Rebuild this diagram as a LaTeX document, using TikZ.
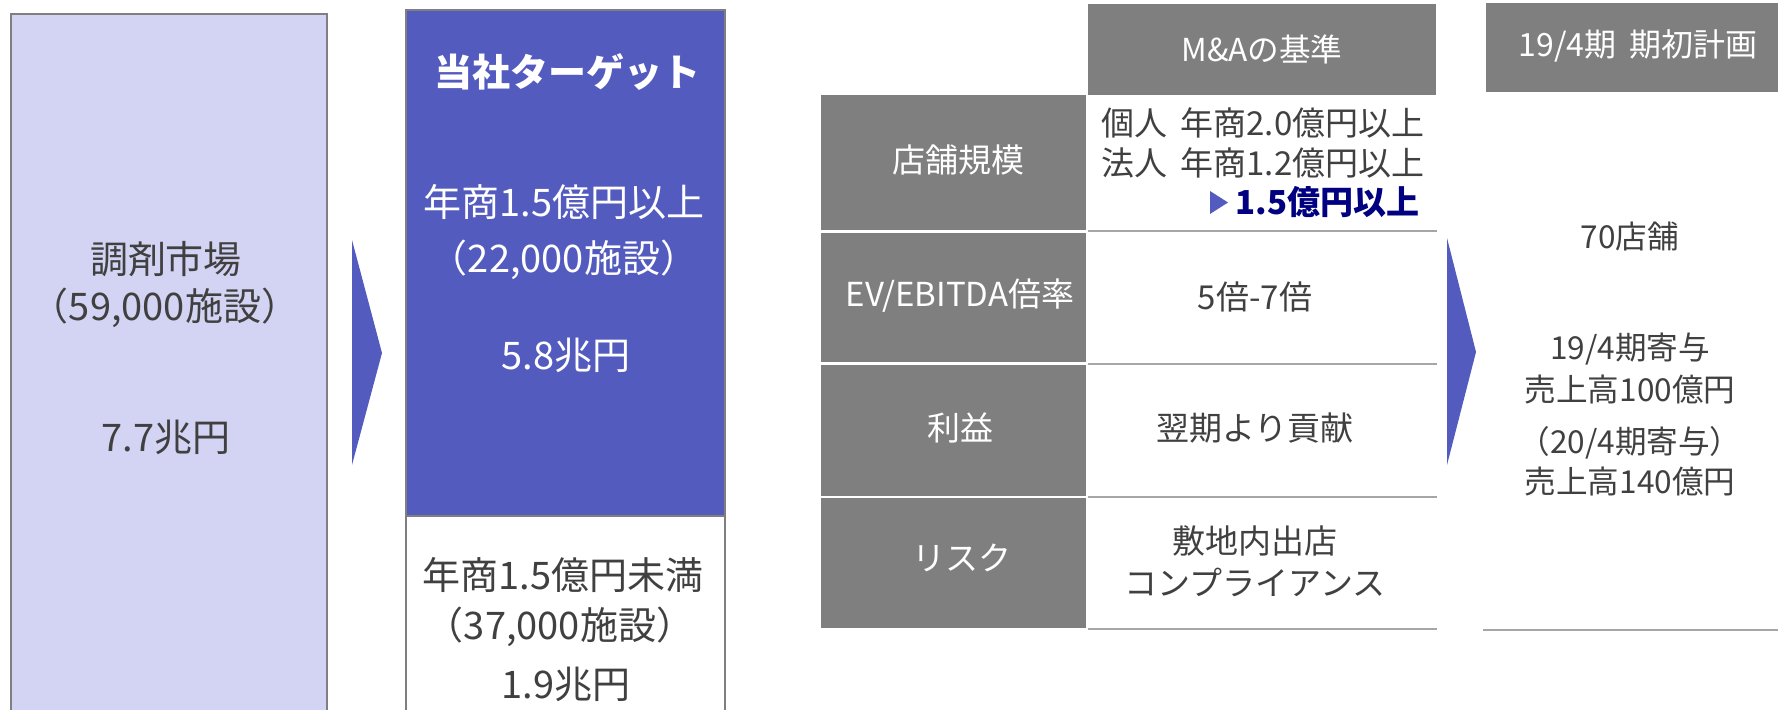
\documentclass[tikz,border=0pt]{standalone}
\usepackage{fontspec}
\setmainfont{Noto Sans CJK JP}
\definecolor{lav}{RGB}{211,211,243}
\definecolor{tblue}{RGB}{84,91,191}
\definecolor{bgray}{RGB}{127,127,127}
\definecolor{lgray}{RGB}{166,166,166}
\definecolor{txt}{RGB}{64,64,64}
\definecolor{navy}{RGB}{0,0,128}
\begin{document}
\begin{tikzpicture}[x=0.5pt,y=-0.5pt,
  box/.style={anchor=north west, inner sep=0, outer sep=0},
  big/.style={text=txt, font=\fontsize{19}{22}\selectfont, inner sep=0},
  bigw/.style={big, text=white},
  lab/.style={text=white, font=\fontsize{16.5}{20}\selectfont, inner sep=0},
  val/.style={text=txt, font=\fontsize{16.5}{20}\selectfont, inner sep=0},
  rcol/.style={text=txt, font=\fontsize{15.8}{18}\selectfont, inner sep=0},
  cell/.style={box, fill=bgray},
  rule/.style={draw=lgray, line width=1.25pt},
  chevron/.style={fill=tblue}
]
\useasboundingbox (0,0) rectangle (1778,710);
\clip (0,0) rectangle (1778,710);

% left market box
\node[box, draw=bgray, line width=1pt, fill=lav, minimum width=158pt, minimum height=360pt] (market) at (11,14) {};
\node[big] (m1) at (166,259) {調剤市場};
\node[big] (m2) at (165,308) {（59,000施設）};
\node[big] (m3) at (166,437) {7.7兆円};

% chevron 1
\fill[chevron] (352,240) -- (382,353) -- (352,465) -- cycle;

% target box
\node[box, draw=bgray, line width=1pt, fill=tblue, minimum width=159.5pt, minimum height=253pt] (target) at (406,10) {};
\node[box, draw=bgray, line width=1pt, fill=white, minimum width=159.5pt, minimum height=110pt] (rest) at (406,516) {};
\node[bigw, font=\fontsize{19}{22}\selectfont\bfseries] (t0) at (567,72) {当社ターゲット};
\node[bigw] (t1) at (564,202) {年商1.5億円以上};
\node[bigw] (t2) at (564,260) {（22,000施設）};
\node[bigw] (t3) at (566,355) {5.8兆円};
\node[big] (r1) at (563,575) {年商1.5億円未満};
\node[big] (r2) at (560,627) {（37,000施設）};
\node[big] (r3) at (566,684) {1.9兆円};

% M&A table
\node[cell, minimum width=174pt, minimum height=45.5pt] (mah) at (1088,4) {};
\node[lab, font=\fontsize{15.8}{18}\selectfont] (mahT) at (1262,49) {M\&Aの基準};

\node[cell, minimum width=132.5pt, minimum height=67.5pt] (l1) at (821,95) {};
\node[cell, minimum width=132.5pt, minimum height=64.5pt] (l2) at (821,233) {};
\node[cell, minimum width=132.5pt, minimum height=65.5pt] (l3) at (821,365) {};
\node[cell, minimum width=132.5pt, minimum height=65pt] (l4) at (821,498) {};
\node[lab] (l1T) at (958,160) {店舗規模};
\node[lab] (l2T) at (960,296) {EV/EBITDA倍率};
\node[lab] (l3T) at (960,428) {利益};
\node[lab] (l4T) at (962,558) {リスク};

\node[box, minimum width=174.5pt, minimum height=68pt] (v1) at (1088,95) {};
\node[box, minimum width=174.5pt, minimum height=66.5pt] (v2) at (1088,231) {};
\node[box, minimum width=174.5pt, minimum height=66.5pt] (v3) at (1088,364) {};
\node[box, minimum width=174.5pt, minimum height=66pt] (v4) at (1088,497) {};
\draw[rule] (v1.south west) -- (v1.south east);
\draw[rule] (v2.south west) -- (v2.south east);
\draw[rule] (v3.south west) -- (v3.south east);
\draw[rule] (v4.south west) -- (v4.south east);

\node[val, anchor=west] (v1a) at (1101,123) {個人\hspace{0.4em}年商2.0億円以上};
\node[val, anchor=west] (v1b) at (1101,163) {法人\hspace{0.4em}年商1.2億円以上};
\node[val, anchor=east, text=navy, font=\fontsize{16.5}{20}\selectfont\bfseries] (v1c) at (1420,202) {1.5億円以上};
\fill[tblue] (1210,191) -- (1228,202.5) -- (1210,214) -- cycle;
\node[val] (v2T) at (1255,297) {5倍-7倍};
\node[val] (v3T) at (1255,428) {翌期より貢献};
\node[val] (v4a) at (1255,541) {敷地内出店};
\node[val] (v4b) at (1255,582) {コンプライアンス};

% chevron 2
\fill[chevron] (1447,238) -- (1476,352) -- (1447,465) -- cycle;

% right column
\node[cell, minimum width=150pt, minimum height=44.5pt] (rh) at (1486,3) {};
\node[lab, font=\fontsize{16}{18}\selectfont] (rhT) at (1638,46) {19/4期\hspace{0.4em}期初計画};
\node[box, minimum width=147.5pt, minimum height=269pt] (rc) at (1483,92) {};
\draw[rule] (rc.south west) -- (rc.south east);
\node[rcol] (rc1) at (1630,236) {70店舗};
\node[rcol] (rc2) at (1630,349) {19/4期寄与};
\node[rcol] (rc3) at (1630,389) {売上高100億円};
\node[rcol] (rc4) at (1630,443) {（20/4期寄与）};
\node[rcol] (rc5) at (1630,481) {売上高140億円};
\end{tikzpicture}
\end{document}
